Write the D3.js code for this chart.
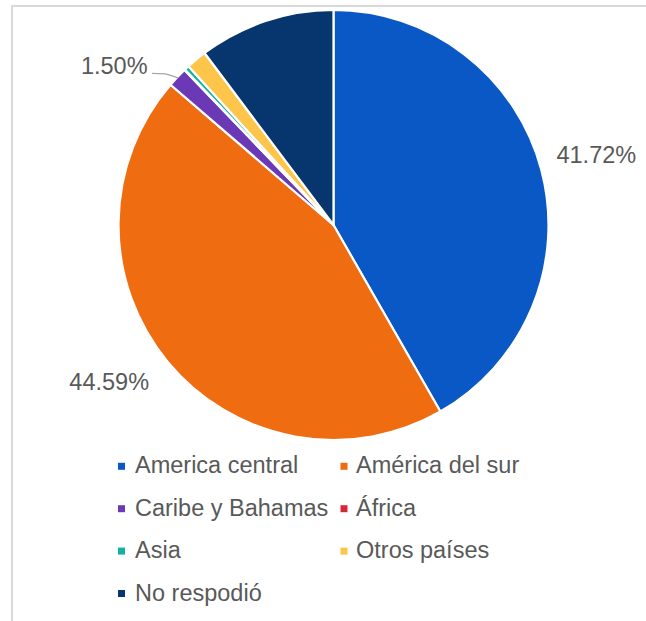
<!DOCTYPE html>
<html>
<head>
<meta charset="utf-8">
<script src="https://cdn.jsdelivr.net/npm/d3@7"></script>
<style>
  html, body { margin: 0; padding: 0; background: #fff; }
  svg { display: block; }
  text { font-family: "Liberation Sans", Arial, sans-serif; fill: #595959; }
</style>
</head>
<body>
<svg id="chart" width="646" height="621"></svg>
<script>
// ---- data ----
const categories = ["America central", "América del sur", "Caribe y Bahamas", "África", "Asia", "Otros países", "No respodió"];
const values = [41.72, 44.59, 1.50, 0.05, 0.35, 1.55, 10.24];
const colors = ["#0a58c6", "#f06c11", "#6b38b6", "#d42a36", "#12b2a3", "#fdc64a", "#07366f"];
const shownLabels = ["41.72%", "44.59%", "1.50%", null, null, null, null];

// ---- layout ----
const W = 646, H = 621;
const cx = 333.5, cy = 225, R = 215;
const fontSize = 23.5;

const svg = d3.select("#chart");

// frame lines (top and left, as in the reference crop)
svg.append("rect")
  .attr("x", 12).attr("y", 6)
  .attr("width", W + 20).attr("height", H + 20)
  .attr("fill", "none").attr("stroke", "#d9d9d9").attr("stroke-width", 2);

const data = categories.map((c, i) => ({ name: c, value: values[i], color: colors[i], label: shownLabels[i] }));

const pie = d3.pie().sort(null).value(d => d.value);
const arcs = pie(data);
const arc = d3.arc().innerRadius(0).outerRadius(R);

const g = svg.append("g").attr("transform", `translate(${cx},${cy})`);

g.selectAll("path.slice")
  .data(arcs)
  .join("path")
  .attr("class", "slice")
  .attr("d", arc)
  .attr("fill", d => d.data.color)
  .attr("stroke", "#fff")
  .attr("stroke-width", 2.2)
  .attr("stroke-linejoin", "round");

// data labels
const labelStyle = {
  "America central": { r: 272, da: 0, anchor: "middle" },
  "América del sur": { r: 274, da: 4.5, anchor: "middle" }
};
arcs.forEach(a => {
  if (!a.data.label) return;
  const mid = (a.startAngle + a.endAngle) / 2;
  const st = labelStyle[a.data.name];
  if (st) {
    const ang = mid + st.da * Math.PI / 180;
    const x = st.r * Math.sin(ang), y = -st.r * Math.cos(ang);
    g.append("text")
      .attr("x", x).attr("y", y)
      .attr("text-anchor", st.anchor)
      .attr("dominant-baseline", "central")
      .style("font-size", fontSize + "px")
      .text(a.data.label);
  } else {
    // small slice: label with leader line
    const p0 = [(R - 1) * Math.sin(mid), -(R - 1) * Math.cos(mid)];
    const p1 = [p0[0] - 10, p0[1] - 3.5];
    const p2 = [p1[0] - 16, p1[1] - 1];
    g.append("path")
      .attr("d", `M${p0[0]},${p0[1]} Q${p1[0]},${p1[1]} ${p1[0] - 3},${p1[1] - 0.5} L${p2[0]},${p2[1]}`)
      .attr("fill", "none").attr("stroke", "#a6a6a6").attr("stroke-width", 1.2);
    g.append("text")
      .attr("x", p2[0] - 4.5).attr("y", p2[1] + 1)
      .attr("text-anchor", "end")
      .style("font-size", fontSize + "px")
      .text(a.data.label);
  }
});

// legend
const legX = [118, 340.5], textX = [135, 356];
const legY0 = 473.3, legStep = 42.4;
const leg = svg.append("g");
data.forEach((d, i) => {
  const col = i % 2, row = Math.floor(i / 2);
  const by = legY0 + row * legStep;
  leg.append("rect")
    .attr("x", legX[col]).attr("y", by - 10.5)
    .attr("width", 7).attr("height", 7)
    .attr("fill", d.color);
  leg.append("text")
    .attr("x", textX[col]).attr("y", by)
    .style("font-size", fontSize + "px")
    .text(d.name);
});
</script>
</body>
</html>
